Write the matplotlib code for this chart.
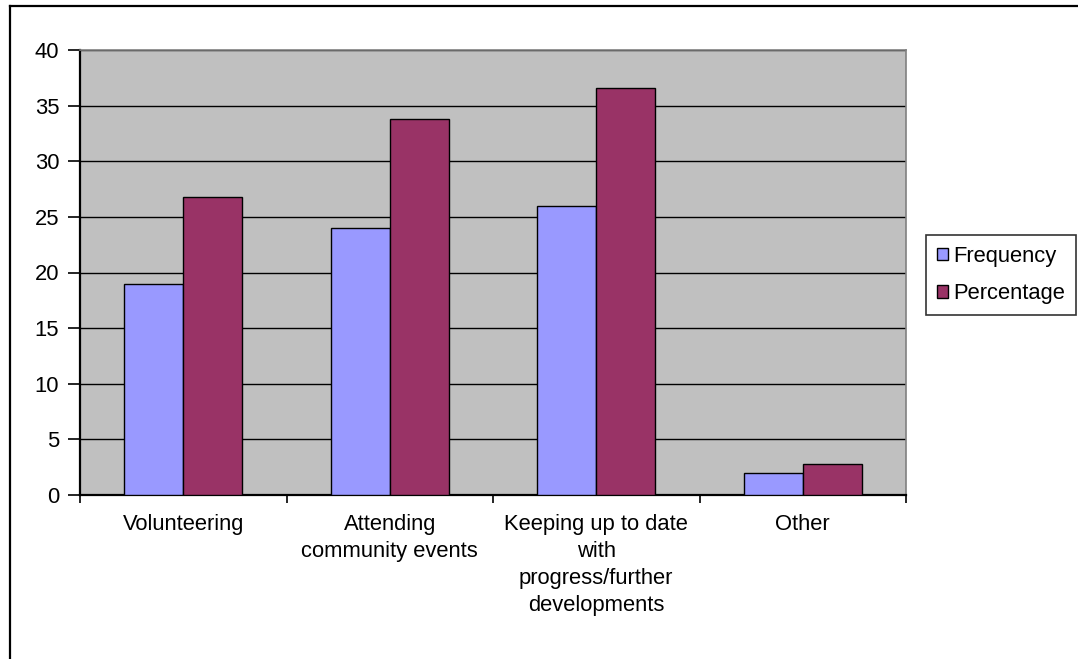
import matplotlib
matplotlib.use("Agg")
import matplotlib.pyplot as plt
from matplotlib.lines import Line2D
import numpy as np

categories = ["Volunteering", "Attending\ncommunity events",
              "Keeping up to date\nwith\nprogress/further\ndevelopments", "Other"]
frequency = [19, 24, 26, 2]
percentage = [26.8, 33.8, 36.6, 2.8]
series_names = ["Frequency", "Percentage"]
y_ticks = [0, 5, 10, 15, 20, 25, 30, 35, 40]

plt.rcParams["font.family"] = ["Liberation Sans", "DejaVu Sans"]
FS = 15.8

W, H = 1078, 659
fig = plt.figure(figsize=(W / 100, H / 100), dpi=100)
fig.patch.set_facecolor("white")

# outer chart frame (left and top edges visible)
fig.add_artist(Line2D([10 / W, 10 / W], [0, 1 - 6 / H], transform=fig.transFigure,
                      color="black", lw=1.6))
fig.add_artist(Line2D([10 / W, 1], [1 - 6 / H, 1 - 6 / H], transform=fig.transFigure,
                      color="black", lw=1.6))

left, right, top, bottom = 80, 906, 50, 495
ax = fig.add_axes([left / W, 1 - bottom / H, (right - left) / W, (bottom - top) / H])
ax.set_facecolor("#C0C0C0")

x = np.arange(len(categories))
bw = 1 / 3.5
ax.bar(x - bw / 2, frequency, bw, color="#9999FF", edgecolor="black", linewidth=1.0,
       label=series_names[0], zorder=3)
ax.bar(x + bw / 2, percentage, bw, color="#993366", edgecolor="black", linewidth=1.0,
       label=series_names[1], zorder=3)

ax.set_xlim(-0.5, len(categories) - 0.5)
ax.set_ylim(0, 40)
ax.set_yticks(y_ticks)
ax.yaxis.grid(True, color="black", linewidth=1.0, zorder=1)
ax.set_axisbelow(True)

# category boundaries as major ticks, names as minor ticks
ax.set_xticks(np.arange(-0.5, len(categories), 1.0))
ax.set_xticklabels([])
ax.set_xticks(x, minor=True)
ax.set_xticklabels(categories, minor=True, fontsize=FS, linespacing=1.37)
ax.tick_params(axis="x", which="minor", length=0, pad=14)
ax.tick_params(axis="x", which="major", length=6, width=1.2, direction="out", color="black")
ax.tick_params(axis="y", length=9, width=1.2, direction="out", labelsize=FS, pad=6)

for side in ("left", "bottom"):
    ax.spines[side].set_color("black")
    ax.spines[side].set_linewidth(1.6)
for side in ("top", "right"):
    ax.spines[side].set_color("#808080")
    ax.spines[side].set_linewidth(1.2)

leg = fig.legend(loc="upper left", bbox_to_anchor=(926 / W, 1 - 235 / H),
                 fontsize=FS, frameon=True, fancybox=False, shadow=False,
                 handlelength=0.5, handleheight=0.5, handletextpad=0.25,
                 labelspacing=0.75, borderpad=0.5, borderaxespad=0)
leg.get_frame().set_edgecolor("black")
leg.get_frame().set_linewidth(1.2)

fig.savefig("out.png", dpi=100, facecolor="white")
